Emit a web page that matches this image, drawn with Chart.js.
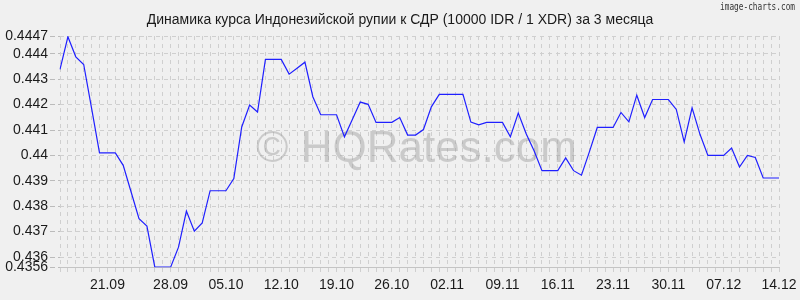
<!DOCTYPE html>
<html>
<head>
<meta charset="utf-8">
<script src="https://cdn.jsdelivr.net/npm/chart.js@4/dist/chart.umd.min.js"></script>
<style>
  html, body { margin: 0; padding: 0; background: #f0f0f0; }
  #wrap { width: 800px; height: 300px; position: relative; }
  canvas { display: block; }
</style>
</head>
<body>
<div id="wrap"><canvas id="c" width="800" height="300"></canvas></div>
<script>
const titleText = 'Динамика курса Индонезийской рупии к СДР (10000 IDR / 1 XDR) за 3 месяца';
const watermark = '© HQRates.com';
const brand = 'image-charts.com';

const rates = [
  0.44339, 0.44467, 0.44388, 0.44358, 0.44185, 0.4401, 0.4401, 0.4401, 0.43961, 0.43856,
  0.43751, 0.43722, 0.4356, 0.4356, 0.4356, 0.43639, 0.43781, 0.43702, 0.43734, 0.43861,
  0.43861, 0.43861, 0.43909, 0.44112, 0.44198, 0.44171, 0.44378, 0.44378, 0.44378, 0.4432,
  0.44343, 0.44367, 0.44231, 0.4416, 0.4416, 0.4416, 0.44073, 0.44141, 0.4421, 0.44201,
  0.4413, 0.4413, 0.4413, 0.44149, 0.4408, 0.4408, 0.44102, 0.44191, 0.4424, 0.4424,
  0.4424, 0.4424, 0.44131, 0.4412, 0.4413, 0.4413, 0.4413, 0.44073, 0.44167, 0.44085,
  0.44018, 0.4394, 0.4394, 0.4394, 0.4399, 0.4394, 0.43922, 0.44014, 0.4411, 0.4411,
  0.4411, 0.44169, 0.44132, 0.44237, 0.44149, 0.4422, 0.4422, 0.4422, 0.44181, 0.44053,
  0.44187, 0.44083, 0.44, 0.44, 0.44, 0.44029, 0.43954, 0.44, 0.43992, 0.43911,
  0.43911, 0.43911
];

const tickIndices = [6, 14, 21, 28, 35, 42, 49, 56, 63, 70, 77, 84, 91];
const tickLabels = ['21.09', '28.09', '05.10', '12.10', '19.10', '26.10', '02.11', '09.11', '16.11', '23.11', '30.11', '07.12', '14.12'];

const yMin = 0.4356;
const yMax = 0.4447;
const yTicks = [0.4356, 0.436, 0.437, 0.438, 0.439, 0.44, 0.441, 0.442, 0.443, 0.444, 0.4447];

const categories = rates.map((_, i) => String(i));

const FONT = "'Liberation Sans', Arial, sans-serif";
const gridColor = '#cfcfcf';

const overlayPlugin = {
  id: 'overlay',
  beforeDatasetsDraw(chart) {
    const ctx = chart.ctx;
    const a = chart.chartArea;
    ctx.save();
    ctx.font = '44px ' + FONT;
    ctx.fillStyle = 'rgba(150,150,150,0.42)';
    ctx.textAlign = 'center';
    ctx.textBaseline = 'alphabetic';
    ctx.fillText(watermark, (a.left + a.right) / 2 - 3, 162);
    ctx.restore();
  },
  afterDraw(chart) {
    const ctx = chart.ctx;
    ctx.save();
    ctx.font = '14px ' + FONT;
    ctx.fillStyle = '#1a1a1a';
    ctx.textAlign = 'center';
    ctx.textBaseline = 'alphabetic';
    ctx.fillText(titleText, chart.width / 2, 24);
    ctx.font = '10px ' + "'DejaVu Sans Mono', monospace";
    ctx.fillStyle = '#333';
    ctx.textAlign = 'right';
    ctx.fillText(brand, 795, 10, 75);
    ctx.restore();
  }
};

new Chart(document.getElementById('c'), {
  type: 'line',
  data: {
    labels: categories,
    datasets: [{
      data: rates,
      borderColor: '#1f1fff',
      borderWidth: 1.2,
      pointRadius: 0,
      tension: 0,
      fill: false
    }]
  },
  options: {
    responsive: false,
    devicePixelRatio: 1,
    animation: false,
    layout: { padding: { left: 0, right: 21, top: 36, bottom: 4 } },
    plugins: {
      legend: { display: false },
      tooltip: { enabled: false },
      title: { display: false }
    },
    scales: {
      x: {
        type: 'category',
        offset: false,
        grid: {
          color: gridColor,
          lineWidth: 1,
          drawTicks: true,
          tickLength: 8,
          tickBorderDash: [4, 4],
          tickColor: gridColor
        },
        border: { display: true, color: '#c4c4c4', dash: [4, 4] },
        ticks: {
          autoSkip: false,
          maxRotation: 0,
          minRotation: 0,
          padding: 2,
          color: '#1a1a1a',
          font: { family: FONT, size: 14 },
          callback: function (val, idx) {
            const k = tickIndices.indexOf(idx);
            return k >= 0 ? tickLabels[k] : '';
          }
        }
      },
      y: {
        type: 'linear',
        min: yMin,
        max: yMax,
        afterBuildTicks: (scale) => { scale.ticks = yTicks.map(v => ({ value: v })); },
        afterFit: (scale) => { scale.width = 60; },
        grid: {
          color: gridColor,
          lineWidth: 1,
          drawTicks: true,
          tickLength: 10,
          tickColor: '#bbbbbb',
          tickBorderDash: [5, 3]
        },
        border: { display: false, dash: [4, 4] },
        ticks: {
          autoSkip: false,
          padding: 2,
          color: '#1a1a1a',
          font: { family: FONT, size: 14 },
          callback: (v) => String(+Number(v).toFixed(4))
        }
      }
    }
  },
  plugins: [overlayPlugin]
});
</script>
</body>
</html>
